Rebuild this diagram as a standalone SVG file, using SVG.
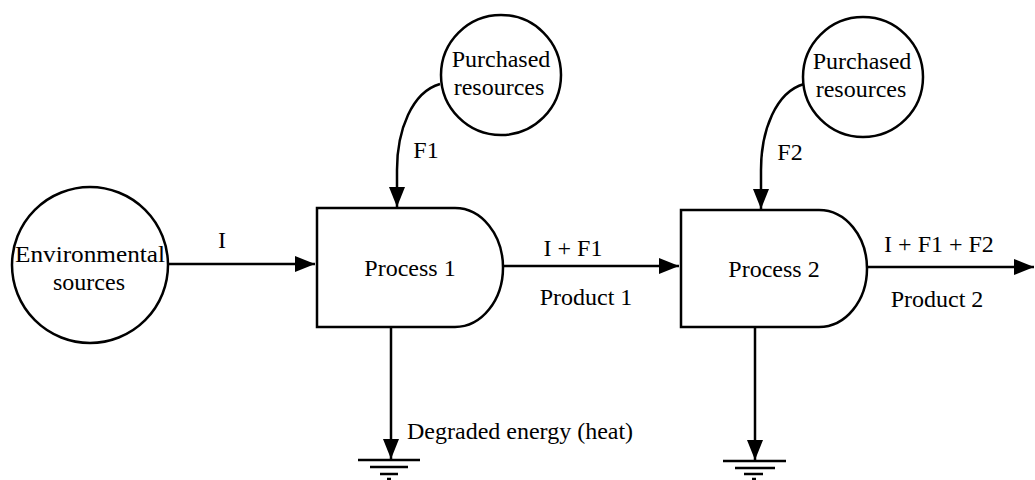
<svg xmlns="http://www.w3.org/2000/svg" width="1035" height="480" viewBox="0 0 1035 480">
<defs>
<marker id="arr" markerWidth="20" markerHeight="16" refX="20" refY="8" orient="auto" markerUnits="userSpaceOnUse">
<path d="M0,0 L20,8 L0,16 Z" fill="#000"/>
</marker>
<style>
.shape{fill:#fff;stroke:#000;stroke-width:2.5}
.line{fill:none;stroke:#000;stroke-width:2.5}
.gnd{stroke:#000;stroke-width:2.5}
text{font-family:"Liberation Serif","Times New Roman",serif;font-size:24px;fill:#000}
.c{text-anchor:middle}
</style>
</defs>
<rect width="1035" height="480" fill="#fff"/>
<g id="connectors">
<path class="line" d="M167,264 H315" marker-end="url(#arr)"/>
<path class="line" d="M440,84 C412,92 397,130 397,170 L397,207" marker-end="url(#arr)"/>
<path class="line" d="M504,266 H679" marker-end="url(#arr)"/>
<path class="line" d="M804,84 C776,92 761,130 761,170 L761,209" marker-end="url(#arr)"/>
<path class="line" d="M868,267 H1034" marker-end="url(#arr)"/>
<path class="line" d="M391,328 V459" marker-end="url(#arr)"/>
<path class="line" d="M755,328 V460" marker-end="url(#arr)"/>
<text x="222" y="248" class="c">I</text>
<text x="426" y="158" class="c">F1</text>
<text x="790" y="160" class="c">F2</text>
<text x="573" y="256" class="c">I + F1</text>
<text x="586" y="305" class="c">Product 1</text>
<text x="939" y="252" class="c">I + F1 + F2</text>
<text x="937" y="307" class="c">Product 2</text>
<text x="407" y="439">Degraded energy (heat)</text>
</g>
<g id="ground1">
<line class="gnd" x1="358" y1="460" x2="420" y2="460"/>
<line class="gnd" x1="370" y1="467" x2="408" y2="467"/>
<line class="gnd" x1="380" y1="474" x2="398" y2="474"/>
<line class="gnd" x1="387" y1="479" x2="391" y2="479"/>
</g>
<g id="ground2">
<line class="gnd" x1="723" y1="461" x2="786" y2="461"/>
<line class="gnd" x1="735" y1="468" x2="775" y2="468"/>
<line class="gnd" x1="744" y1="474" x2="763" y2="474"/>
<line class="gnd" x1="752" y1="479" x2="756" y2="479"/>
</g>
<g id="env">
<circle class="shape" cx="90" cy="265" r="78"/>
<text x="90" y="262" class="c" textLength="150" lengthAdjust="spacingAndGlyphs">Environmental</text>
<text x="89" y="290" class="c">sources</text>
</g>
<g id="purchased1">
<circle class="shape" cx="501" cy="75" r="60"/>
<text x="501" y="67" class="c">Purchased</text>
<text x="499" y="95" class="c">resources</text>
</g>
<g id="purchased2">
<circle class="shape" cx="863" cy="77" r="60"/>
<text x="862" y="69" class="c">Purchased</text>
<text x="861" y="97" class="c">resources</text>
</g>
<g id="process1">
<path class="shape" d="M317,208 H455 A48,59.5 0 0 1 455,327 H317 Z"/>
<text x="410" y="276" class="c">Process 1</text>
</g>
<g id="process2">
<path class="shape" d="M681,210 H819 A48,58.5 0 0 1 819,327 H681 Z"/>
<text x="774" y="277" class="c">Process 2</text>
</g>
</svg>
